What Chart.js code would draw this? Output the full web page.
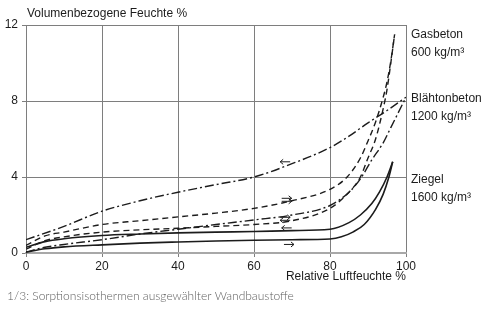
<!DOCTYPE html>
<html>
<head>
<meta charset="utf-8">
<script src="https://cdn.jsdelivr.net/npm/chart.js@4.4.0/dist/chart.umd.min.js"></script>
<style>
  html, body { margin: 0; padding: 0; background: #fff; }
  #wrap { position: relative; width: 500px; height: 324px; }
</style>
</head>
<body>
<div id="wrap"><canvas id="sorption" width="500" height="324"></canvas></div>
<script>
// Relative humidity (%) on x, volume-related moisture (%) on y
const rhTicks = [0, 20, 40, 60, 80, 100];
const moistureTicks = [0, 4, 8, 12];

// Gasbeton 600 kg/m3 (dashed)
const gasbetonDesRh = [0, 5, 10, 20, 30, 40, 50, 60, 70, 80, 84.5, 88, 90, 92, 94, 95, 96, 97];
const gasbetonDes = [0.4, 0.9, 1.1, 1.5, 1.7, 1.9, 2.1, 2.35, 2.75, 3.35, 4.0, 5.0, 5.9, 6.9, 8.2, 9.0, 10.1, 11.5];
const gasbetonAdsRh = [0, 5, 10, 20, 30, 40, 50, 60, 70, 80, 85, 88, 90, 92, 94, 95, 96, 97];
const gasbetonAds = [0.2, 0.65, 0.85, 1.1, 1.22, 1.3, 1.4, 1.5, 1.7, 2.35, 3.2, 4.0, 5.0, 6.0, 7.6, 8.6, 10.0, 11.5];

// Blähtonbeton 1200 kg/m3 (dash-dot)
const blaehtonDesRh = [0, 10, 20, 30, 40, 50, 60, 70, 80, 85, 90, 95, 100];
const blaehtonDes = [0.7, 1.4, 2.2, 2.75, 3.2, 3.6, 4.0, 4.7, 5.55, 6.15, 6.85, 7.5, 8.2];
const blaehtonAdsRh = [0, 5, 10, 20, 30, 40, 50, 60, 70, 80, 85, 88, 91, 94, 96, 98, 100];
const blaehtonAds = [0.05, 0.3, 0.45, 0.7, 1.0, 1.25, 1.5, 1.74, 2.0, 2.5, 3.2, 3.9, 4.9, 5.8, 6.6, 7.4, 8.2];

// Ziegel 1600 kg/m3 (solid)
const ziegelDesRh = [0, 5, 10, 20, 30, 40, 50, 60, 70, 80, 85, 88, 91, 93, 95, 96.5];
const ziegelDes = [0.3, 0.6, 0.75, 0.92, 1.0, 1.06, 1.1, 1.13, 1.18, 1.25, 1.6, 2.0, 2.6, 3.2, 4.0, 4.8];
const ziegelAdsRh = [0, 5, 10, 20, 30, 40, 50, 60, 70, 80, 83, 86, 89, 92, 94, 95.5, 96.5];
const ziegelAds = [0.05, 0.22, 0.32, 0.43, 0.52, 0.58, 0.63, 0.67, 0.7, 0.74, 0.85, 1.1, 1.5, 2.3, 3.1, 4.0, 4.8];

const materialNames = ['Gasbeton', 'Blähtonbeton', 'Ziegel'];
const materialDensities = ['600 kg/m³', '1200 kg/m³', '1600 kg/m³'];
const materialLabelLevels = [11.5, 8.1, 3.85];

const yTitle = 'Volumenbezogene Feuchte %';
const xTitle = 'Relative Luftfeuchte %';
const caption = '1/3: Sorptionsisothermen ausgewählter Wandbaustoffe';

// small direction arrows on the branches (rh, moisture, direction)
const arrowMarks = [
  { rh: 68.2, y: 4.8, dir: -1 },
  { rh: 68.6, y: 2.8, dir: 1, twin: true },
  { rh: 68.2, y: 1.8, dir: 0 },
  { rh: 68.6, y: 1.32, dir: -1 },
  { rh: 69.2, y: 0.45, dir: 1 },
];

const INK = '#1c1c1c';
const DASH = [6, 4];
const DASH_DOT = [9, 3, 2, 3];

function branch(label, rh, vals, dash) {
  return {
    label,
    data: rh.map((x, i) => ({ x, y: vals[i] })),
    borderColor: INK,
    borderWidth: dash.length ? 1.4 : 1.6,
    borderDash: dash,
    pointRadius: 0,
    fill: false,
    cubicInterpolationMode: 'monotone',
  };
}

function drawArrow(ctx, px, py, d) {
  ctx.beginPath();
  ctx.moveTo(px - 5, py);
  ctx.lineTo(px + 5, py);
  const tip = px + 5 * d;
  ctx.moveTo(tip - 3 * d, py - 2.5);
  ctx.lineTo(tip, py);
  ctx.lineTo(tip - 3 * d, py + 2.5);
  ctx.stroke();
}

const textPlugin = {
  id: 'sorptionText',
  afterDraw(chart) {
    const { ctx, scales } = chart;
    const xs = scales.x, ys = scales.y;
    ctx.save();
    ctx.fillStyle = INK;
    ctx.textBaseline = 'middle';
    ctx.textAlign = 'left';
    ctx.font = '12px "Liberation Sans", Arial, sans-serif';
    ctx.fillText(yTitle, 27, 14);

    materialNames.forEach((name, i) => {
      const py = ys.getPixelForValue(materialLabelLevels[i]);
      ctx.fillText(name, 411, py);
      ctx.fillText(materialDensities[i], 411, py + 18);
    });

    // adsorption / desorption arrows
    ctx.strokeStyle = INK;
    ctx.lineWidth = 1;
    arrowMarks.forEach((m) => {
      const px = xs.getPixelForValue(m.rh);
      const py = ys.getPixelForValue(m.y);
      if (m.dir === 0) {
        drawArrow(ctx, px, py - 1.5, 1);
        drawArrow(ctx, px, py + 1.5, -1);
      } else if (m.twin) {
        drawArrow(ctx, px, py - 1.5, m.dir);
        drawArrow(ctx, px, py + 1.5, m.dir);
      } else {
        drawArrow(ctx, px, py, m.dir);
      }
    });

    ctx.fillStyle = '#5e5e5e';
    ctx.font = '300 12px Lato, "Open Sans", sans-serif';
    ctx.fillText(caption, 7, 296);
    ctx.restore();
  },
};

new Chart(document.getElementById('sorption'), {
  type: 'line',
  data: {
    datasets: [
      branch('Gasbeton Desorption', gasbetonDesRh, gasbetonDes, DASH),
      branch('Gasbeton Adsorption', gasbetonAdsRh, gasbetonAds, DASH),
      branch('Blähtonbeton Desorption', blaehtonDesRh, blaehtonDes, DASH_DOT),
      branch('Blähtonbeton Adsorption', blaehtonAdsRh, blaehtonAds, DASH_DOT),
      branch('Ziegel Desorption', ziegelDesRh, ziegelDes, []),
      branch('Ziegel Adsorption', ziegelAdsRh, ziegelAds, []),
    ],
  },
  options: {
    responsive: false,
    animation: false,
    devicePixelRatio: 1,
    layout: { padding: { left: 0, top: 25, right: 94, bottom: 0 } },
    plugins: {
      legend: { display: false },
      tooltip: { enabled: false },
    },
    scales: {
      x: {
        type: 'linear',
        min: 0,
        max: 100,
        afterFit: (scale) => { scale.height = 71; },
        afterBuildTicks: (scale) => { scale.ticks = rhTicks.map((v) => ({ value: v })); },
        ticks: {
          color: INK,
          padding: 2,
          font: { family: '"Liberation Sans", Arial, sans-serif', size: 12 },
        },
        grid: { color: '#7e7e7e', lineWidth: 1, tickLength: 4 },
        border: { color: '#a8a8a8', width: 2 },
        title: {
          display: true,
          text: xTitle,
          align: 'end',
          color: INK,
          font: { family: '"Liberation Sans", Arial, sans-serif', size: 12 },
          padding: { top: 0, bottom: 40 },
        },
      },
      y: {
        min: 0,
        max: 12,
        afterFit: (scale) => { scale.width = 26; },
        afterBuildTicks: (scale) => { scale.ticks = moistureTicks.map((v) => ({ value: v })); },
        ticks: {
          color: INK,
          padding: 4,
          font: { family: '"Liberation Sans", Arial, sans-serif', size: 12 },
        },
        grid: { color: '#7e7e7e', lineWidth: 1, tickLength: 4 },
        border: { color: '#7e7e7e', width: 1 },
      },
    },
  },
  plugins: [textPlugin],
});
</script>
</body>
</html>
